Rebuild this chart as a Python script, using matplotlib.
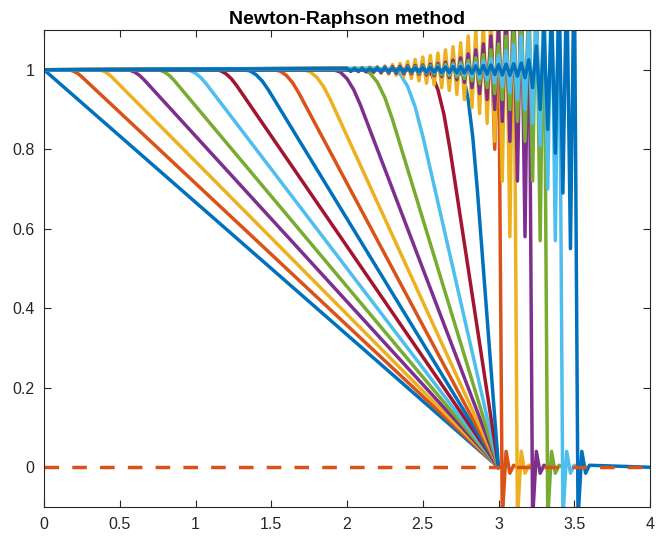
import numpy as np
import matplotlib
matplotlib.use("Agg")
import matplotlib.pyplot as plt

plt.rcParams['font.family'] = ['Liberation Sans', 'DejaVu Sans']
plt.rcParams['lines.scale_dashes'] = False

# MATLAB-style colour order
BLUE = (0.000, 0.447, 0.741)
ORANGE = (0.850, 0.325, 0.098)
YELLOW = (0.929, 0.694, 0.125)
PURPLE = (0.494, 0.184, 0.556)
GREEN = (0.466, 0.674, 0.188)
LBLUE = (0.301, 0.745, 0.933)
RED = (0.635, 0.078, 0.184)

# ---- profiles before the shock forms: flat at 1, rounded knee, straight ramp to (3, 0)
ramp_times = [0.0, 0.2, 0.4, 0.6, 0.8, 1.0, 1.2, 1.4, 1.6, 1.8, 2.0, 2.2, 2.4, 2.6, 2.8]
ramp_colors = [BLUE, ORANGE, YELLOW, PURPLE, GREEN, LBLUE, RED,
               BLUE, ORANGE, YELLOW, PURPLE, GREEN, LBLUE, RED, BLUE]
knee_x = [
    [],
    [0.15, 0.175, 0.20, 0.225, 0.25],
    [0.35, 0.375, 0.40, 0.425, 0.45],
    [0.54, 0.57, 0.60, 0.63, 0.66],
    [0.74, 0.77, 0.80, 0.83, 0.86],
    [0.93, 0.965, 1.00, 1.035, 1.07],
    [1.13, 1.165, 1.20, 1.235, 1.27],
    [1.32, 1.36, 1.40, 1.44, 1.48],
    [1.52, 1.56, 1.60, 1.64, 1.68],
    [1.71, 1.755, 1.80, 1.845, 1.89],
    [1.91, 1.955, 2.00, 2.045, 2.09],
    [2.10, 2.15, 2.20, 2.25, 2.30],
    [2.30, 2.35, 2.40, 2.45, 2.50],
    [2.52, 2.56, 2.60, 2.64, 2.68],
    [2.74, 2.77, 2.80, 2.83, 2.86],
]
knee_y = [
    [],
    [1.0, 0.9989, 0.9955, 0.9900, 0.9821],
    [1.0, 0.9988, 0.9952, 0.9892, 0.9808],
    [1.0, 0.9984, 0.9938, 0.9859, 0.9750],
    [1.0, 0.9983, 0.9932, 0.9847, 0.9727],
    [1.0, 0.9978, 0.9913, 0.9803, 0.9650],
    [1.0, 0.9976, 0.9903, 0.9781, 0.9611],
    [1.0, 0.9969, 0.9875, 0.9719, 0.9500],
    [1.0, 0.9964, 0.9857, 0.9679, 0.9429],
    [1.0, 0.9953, 0.9813, 0.9578, 0.9250],
    [1.0, 0.9944, 0.9775, 0.9494, 0.9100],
    [1.0, 0.9922, 0.9688, 0.9297, 0.8750],
    [1.0, 0.9896, 0.9583, 0.9063, 0.8333],
    [1.0, 0.9875, 0.9500, 0.8875, 0.8000],
    [1.0, 0.9813, 0.9250, 0.8313, 0.7000],
]
ramp_end_x, ramp_end_y = 3.0, 0.0

# ---- profiles after the shock: grid values (step dx) with oscillations
dx = 0.025
shock_colors = [ORANGE, YELLOW, PURPLE, GREEN, LBLUE, BLUE]
shock_x0 = [2.4, 2.0, 2.0, 2.2, 2.3, 2.0]
shock_vals = [
    # t = 3.0
    [1.002, 0.998, 1.003, 0.996, 1.004, 0.995, 1.006, 0.993, 1.008, 0.990,
     1.011, 0.986, 1.015, 0.980, 1.020, 0.972, 1.030, 0.960, 1.040, 0.940,
     1.060, 0.900, 1.100, 0.800, 1.150,
     -0.130, 0.040, -0.015, 0.005, 0.000],
    # t = 3.2
    [1.004, 0.996, 1.005, 0.995, 1.005, 0.995, 1.007, 0.992, 1.008, 0.991,
     1.010, 0.989, 1.013, 0.986, 1.016, 0.983, 1.021, 0.978, 1.026, 0.972,
     1.032, 0.966, 1.036, 0.962, 1.042, 0.955, 1.050, 0.948, 1.058, 0.938,
     1.068, 0.925, 1.085, 0.905, 1.100, 0.890, 1.120, 0.865, 1.145, 0.820,
     1.190, 0.720, 1.250, 0.580, 1.300,
     -0.130, 0.040, -0.015, 0.005, 0.000],
    # t = 3.4
    [1.004, 0.996, 1.004, 0.996, 1.005, 0.995, 1.005, 0.994, 1.006, 0.993,
     1.007, 0.992, 1.008, 0.991, 1.009, 0.990, 1.010, 0.990, 1.011, 0.989,
     1.012, 0.987, 1.014, 0.985, 1.016, 0.983, 1.019, 0.980, 1.024, 0.975,
     1.030, 0.968, 1.040, 0.955, 1.050, 0.940, 1.065, 0.925, 1.085, 0.900,
     1.110, 0.870, 1.140, 0.820, 1.190, 0.720, 1.250, 0.580, 1.300,
     -0.130, 0.040, -0.015, 0.005, 0.000],
    # t = 3.6
    [1.004, 0.996, 1.004, 0.995, 1.005, 0.995, 1.006, 0.994, 1.007, 0.993,
     1.008, 0.992, 1.009, 0.991, 1.010, 0.989, 1.012, 0.987, 1.014, 0.985,
     1.016, 0.982, 1.019, 0.978, 1.024, 0.972, 1.030, 0.965, 1.038, 0.955,
     1.050, 0.940, 1.065, 0.925, 1.085, 0.900, 1.110, 0.870, 1.140, 0.820,
     1.190, 0.720, 1.250, 0.570, 1.300,
     -0.130, 0.040, -0.015, 0.005, 0.000],
    # t = 3.8
    [1.003, 0.997, 1.004, 0.996, 1.004, 0.995, 1.005, 0.995, 1.006, 0.994,
     1.007, 0.993, 1.008, 0.992, 1.009, 0.990, 1.011, 0.988, 1.013, 0.986,
     1.015, 0.983, 1.018, 0.979, 1.022, 0.974, 1.028, 0.967, 1.036, 0.957,
     1.048, 0.942, 1.063, 0.925, 1.085, 0.900, 1.110, 0.865, 1.145, 0.810,
     1.190, 0.700, 1.250, 0.570, 1.300,
     -0.130, 0.040, -0.015, 0.005, 0.000],
    # t = 4.0
    [1.003, 0.997, 1.003, 0.997, 1.003, 0.997, 1.003, 0.997, 1.004, 0.996,
     1.004, 0.996, 1.004, 0.996, 1.005, 0.995, 1.005, 0.995, 1.005, 0.995,
     1.006, 0.994, 1.006, 0.994, 1.007, 0.993, 1.007, 0.993, 1.008, 0.992,
     1.008, 0.992, 1.009, 0.991, 1.010, 0.990, 1.011, 0.989, 1.012, 0.988,
     1.013, 0.987, 1.014, 0.986, 1.015, 0.984, 1.017, 0.980, 1.025, 0.955,
     1.060, 0.900, 1.100, 0.850, 1.140, 0.790, 1.190, 0.690, 1.250, 0.550,
     1.300,
     -0.130, 0.040, -0.015, 0.005],
]
last_end_x, last_end_y = 4.0, 0.0

# reference level
zero_x = [0.0, 4.0]
zero_y = [0.0, 0.0]

fig = plt.figure(figsize=(6.56, 5.39), dpi=100)
ax = fig.add_axes([44 / 656, 32 / 539, 606 / 656, 477 / 539])

LW = 2.5
for t, c, kx, ky in zip(ramp_times, ramp_colors, knee_x, knee_y):
    xs = [0.0] + kx + [ramp_end_x]
    ys = [1.0] + ky + [ramp_end_y]
    ax.plot(xs, ys, color=c, lw=LW, solid_joinstyle='round')

for i, (c, x0, vals) in enumerate(zip(shock_colors, shock_x0, shock_vals)):
    xs = list(x0 + dx * np.arange(len(vals)))
    ys = list(vals)
    xs = [0.0] + xs
    ys = [1.0] + ys
    if i == len(shock_vals) - 1:
        xs.append(last_end_x)
        ys.append(last_end_y)
    ax.plot(xs, ys, color=c, lw=LW, solid_joinstyle='round')

ax.plot(zero_x, zero_y, color=ORANGE, lw=LW, dashes=(10.5, 9.5))

ax.set_xlim(0, 4)
ax.set_ylim(-0.1, 1.1)
ax.set_xticks([0, 0.5, 1, 1.5, 2, 2.5, 3, 3.5, 4])
ax.set_xticklabels(['0', '0.5', '1', '1.5', '2', '2.5', '3', '3.5', '4'])
ax.set_yticks([0, 0.2, 0.4, 0.6, 0.8, 1])
ax.set_yticklabels(['0', '0.2', '0.4', '0.6', '0.8', '1'])

AX_COL = '#262626'
for sp in ax.spines.values():
    sp.set_color(AX_COL)
    sp.set_linewidth(0.8)
ax.tick_params(direction='in', top=True, right=True, length=5, width=0.8,
               colors=AX_COL, labelsize=11.5, pad=7)
ax.set_title('Newton-Raphson method', fontsize=14, fontweight='bold', pad=4)

fig.savefig('out.png', dpi=100)
